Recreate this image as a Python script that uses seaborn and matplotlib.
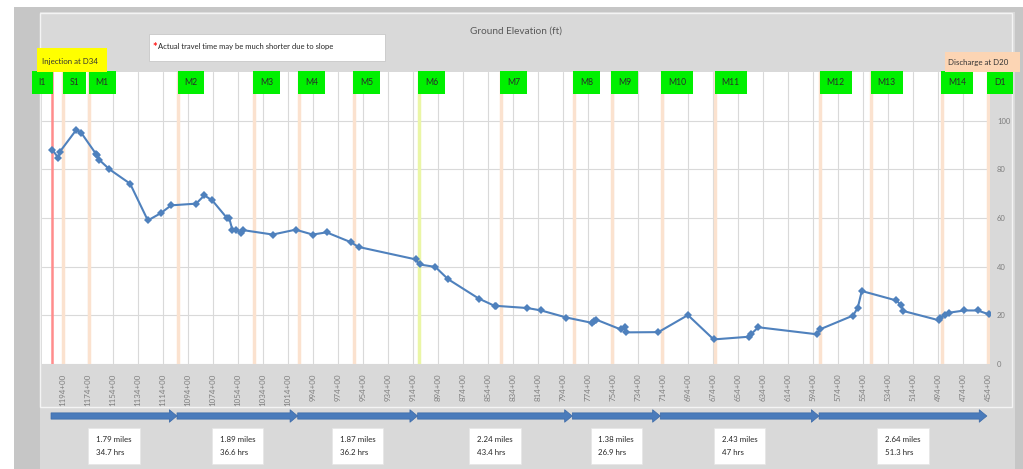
import matplotlib
matplotlib.use("Agg")
import matplotlib.pyplot as plt
import matplotlib.transforms as mtransforms
from matplotlib.patches import Rectangle, FancyArrowPatch
import seaborn as sns
import pandas as pd

# ground elevation profile (station in 100 ft, elevation in ft)
station = [1202.6, 1198.0, 1196.6, 1183.6, 1179.6, 1167.9, 1167.1, 1165.2, 1157.0, 1140.5,
           1126.3, 1115.9, 1107.7, 1087.7, 1081.1, 1074.7, 1063.2, 1061.3, 1058.7, 1056.0,
           1052.0, 1049.9, 1026.4, 1008.1, 994.5, 983.3, 964.1, 957.7, 912.1, 908.9,
           896.3, 886.2, 861.6, 848.9, 847.7, 822.7, 811.6, 791.4, 770.9, 769.3,
           767.4, 747.9, 744.7, 743.4, 717.8, 694.2, 673.6, 645.5, 643.6, 637.9,
           590.8, 588.3, 562.1, 558.3, 555.1, 527.4, 523.5, 522.0, 493.6, 492.6,
           488.2, 485.0, 473.0, 462.5, 453.2]
elevation = [88.0, 84.7, 87.3, 96.2, 95.0, 86.4, 85.7, 83.9, 80.0, 74.1,
             59.0, 62.0, 65.2, 65.9, 69.3, 67.2, 60.1, 60.1, 55.2, 55.2,
             54.0, 55.0, 53.2, 55.2, 53.2, 54.1, 50.1, 48.1, 43.0, 40.9,
             39.9, 34.9, 26.9, 23.9, 23.9, 23.0, 22.0, 19.1, 16.9, 17.6,
             18.2, 14.2, 15.3, 13.0, 13.1, 20.1, 10.1, 11.2, 12.3, 15.1,
             12.2, 14.3, 19.9, 23.1, 30.0, 26.1, 24.1, 21.8, 18.0, 19.1,
             20.1, 21.1, 22.0, 22.0, 20.4]

# monitoring points
point_names = ["I1", "S1", "M1", "M2", "M3", "M4", "M5", "M6", "M7", "M8",
               "M9", "M10", "M11", "M12", "M13", "M14", "D1"]
point_station = [1202.8, 1194, 1173.2, 1102, 1041.4, 1005.4, 961.5, 909.5, 844, 785.7,
                 755.3, 715.3, 672.2, 588.3, 547.5, 490.8, 454]

# travel legs between points
leg_start = ["I1", "M2", "M4", "M6", "M8", "M10", "M12"]
leg_end = ["M2", "M4", "M6", "M8", "M10", "M12", "D1"]
leg_miles = [1.79, 1.89, 1.87, 2.24, 1.38, 2.43, 2.64]
leg_hours = [34.7, 36.6, 36.2, 43.4, 26.9, 47, 51.3]

tick_stations = list(range(1194, 450, -20))
tick_labels = [f"{s}+00" for s in tick_stations]

sns.set_style("white")
plt.rcParams["font.family"] = ["Lato", "DejaVu Sans"]

W, H = 1023, 469
fig = plt.figure(figsize=(W / 100, H / 100), dpi=100)
fig.patch.set_facecolor("#d9d9d9")


def frect(x0, y0, x1, y1, z=-5, **kw):
    # rectangle in pixel coords from the top-left corner
    fig.patches.append(Rectangle((x0 / W, 1 - y1 / H), (x1 - x0) / W, (y1 - y0) / H,
                                 transform=fig.transFigure, zorder=z, **kw))


# frame of the slide
frect(0, 0, W, 7, fc="white", ec="none")
frect(0, 0, 14, H, fc="white", ec="none")
frect(14, 7, 40, H, fc="#c6c6c6", ec="none")
frect(14, 7, W, 12, fc="#c6c6c6", ec="none")
frect(1015, 7, W, H, fc="#c6c6c6", ec="none")
frect(40, 13, 1012, 407, fc="none", ec="#f4f4f4", lw=1)

ax = fig.add_axes([42 / W, 1 - 364 / H, 948 / W, 292 / H])
ax.set_facecolor("white")

df = pd.DataFrame({"station": station, "elevation": elevation})

for name, st in zip(point_names, point_station):
    if name == "I1":
        ax.axvline(st, color="#ff8c8c", lw=1.8, zorder=1)
    elif name == "M6":
        ax.axvline(st, color="#eaf6a6", lw=2.5, zorder=1)
    else:
        ax.axvline(st, color="#fbe2cf", lw=2.5, zorder=1)

sns.lineplot(data=df, x="station", y="elevation", sort=False, ax=ax, color="#4f81bd",
             lw=1.5, marker="D", markersize=3.8, markeredgewidth=0, zorder=3)

ax.set_xlim(1211, 452.5)
ax.set_ylim(0, 120)
ax.set_xticks(tick_stations)
ax.set_xticklabels(tick_labels, rotation=90, fontsize=5.7, color="#7f7f7f")
ax.set_yticks([0, 20, 40, 60, 80, 100])
ax.yaxis.tick_right()
ax.tick_params(axis="y", labelsize=5.5, labelcolor="#7f7f7f", length=0, pad=5)
ax.tick_params(axis="x", length=0, pad=7)
ax.grid(True, color="#d9d9d9", lw=0.8, zorder=0)
ax.set_axisbelow(True)
ax.set_xlabel("")
ax.set_ylabel("")
for sp in ax.spines.values():
    sp.set_visible(False)

# green point labels at the top of the plot
lab_tr = mtransforms.blended_transform_factory(ax.transData, ax.transAxes)
for name, st in zip(point_names, point_station):
    right = name == "I1"
    ax.annotate(name, xy=(st, 0.965), xycoords=lab_tr, xytext=(-4.5 if right else 4.5, 0),
                textcoords="offset points", ha="right" if right else "left", va="center",
                fontsize=6.2, color="#2b2b2b", annotation_clip=False, zorder=6,
                bbox=dict(boxstyle="square,pad=0.8", fc="#00f000", ec="none"))

# travel legs below the axis
leg_tr = mtransforms.blended_transform_factory(ax.transData, fig.transFigure)
pos = dict(zip(point_names, point_station))
arrow_y = 1 - 416 / H
for a, b, mi, hr in zip(leg_start, leg_end, leg_miles, leg_hours):
    xa, xb = pos[a] + 1, pos[b] + 1
    arr = FancyArrowPatch((xa, arrow_y), (xb, arrow_y), transform=leg_tr,
                          arrowstyle="simple,head_length=0.55,head_width=0.9,tail_width=0.45",
                          mutation_scale=10, shrinkA=0, shrinkB=0,
                          fc="#4a7bbb", ec="#3c6aa8", lw=0.5, clip_on=False)
    fig.patches.append(arr)
    fig.text((ax.transData.transform((0.5 * (xa + xb), 0))[0]) / W, 1 - 446 / H,
             f"{mi} miles\n{hr} hrs", ha="center", va="center", fontsize=5.7,
             color="#262626", linespacing=1.9, multialignment="left",
             bbox=dict(boxstyle="square,pad=1.0", fc="white", ec="#e6e6e6", lw=0.5))

# chart title and side notes
fig.text(516 / W, 1 - 31 / H, "Ground Elevation (ft)", ha="center", va="center",
         fontsize=7.2, color="#595959")
frect(149, 34, 385, 61, z=2, fc="white", ec="#c8c8c8", lw=0.6)
fig.text(152 / W, 1 - 47 / H, "*", ha="left", va="center", fontsize=8, color="#ff1010",
         fontweight="bold", zorder=5)
fig.text(158 / W, 1 - 46 / H, "Actual travel time may be much shorter due to slope",
         ha="left", va="center", fontsize=5.5, color="#262626", zorder=5)
frect(37, 48, 107, 72, z=2, fc="#ffff00", ec="none")
fig.text(42 / W, 1 - 61 / H, "Injection at D34", ha="left", va="center",
         fontsize=5.7, color="#333333", zorder=5)
frect(945, 52, 1020, 72, z=2, fc="#fcd5b4", ec="none")
fig.text(948 / W, 1 - 63 / H, "Discharge at D20", ha="left", va="center",
         fontsize=5.7, color="#333333", zorder=5)

fig.savefig("out.png", dpi=100, facecolor=fig.get_facecolor())
